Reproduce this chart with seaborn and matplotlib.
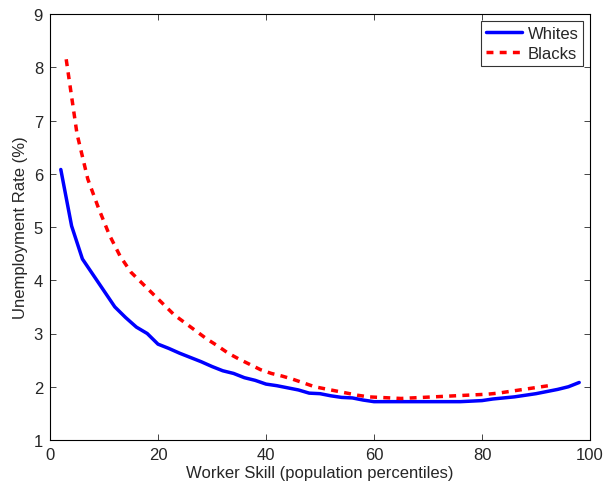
#!/usr/bin/env python3
"""Unemployment rate by worker skill percentile, whites vs blacks."""

import matplotlib
matplotlib.use("Agg")
import matplotlib.pyplot as plt
import pandas as pd
import seaborn as sns

sns.set_style("ticks")
plt.rcParams["font.family"] = ["Liberation Sans", "DejaVu Sans"]

WHITE_SKILL = list(range(2, 100, 2))
WHITE_RATE = [6.08, 5.02, 4.40, 4.10, 3.80, 3.50, 3.30, 3.12, 3.00, 2.80,
              2.72, 2.63, 2.55, 2.47, 2.38, 2.30, 2.25, 2.17, 2.12, 2.05,
              2.02, 1.98, 1.94, 1.88, 1.87, 1.83, 1.80, 1.79, 1.75, 1.72,
              1.72, 1.72, 1.72, 1.72, 1.72, 1.72, 1.72, 1.72, 1.73, 1.74,
              1.77, 1.79, 1.81, 1.84, 1.87, 1.91, 1.95, 2.00, 2.08]

BLACK_SKILL = list(range(3, 95, 2))
BLACK_RATE = [8.15, 6.75, 5.90, 5.35, 4.85, 4.45, 4.15, 3.95, 3.75, 3.55,
              3.35, 3.20, 3.05, 2.90, 2.77, 2.63, 2.52, 2.42, 2.32, 2.25,
              2.20, 2.14, 2.07, 2.00, 1.96, 1.92, 1.88, 1.84, 1.81, 1.80,
              1.79, 1.78, 1.79, 1.80, 1.81, 1.82, 1.83, 1.84, 1.85, 1.86,
              1.88, 1.91, 1.94, 1.97, 2.00, 2.03]


def main():
    df = pd.concat([
        pd.DataFrame({"skill": WHITE_SKILL, "rate": WHITE_RATE, "group": "Whites"}),
        pd.DataFrame({"skill": BLACK_SKILL, "rate": BLACK_RATE, "group": "Blacks"}),
    ])

    fig = plt.figure(figsize=(6.08, 4.89), dpi=100)
    ax = fig.add_axes([50 / 608, 1 - 441 / 489, 540 / 608, 426 / 489])
    sns.lineplot(data=df, x="skill", y="rate", hue="group", style="group",
                 palette={"Whites": "#0000ff", "Blacks": "#ff0000"},
                 dashes={"Whites": "", "Blacks": (2.0, 1.8)},
                 linewidth=2.5, ax=ax)

    ax.set(xlim=(0, 100), ylim=(1, 9),
           xlabel="Worker Skill (population percentiles)",
           ylabel="Unemployment Rate (%)")
    ax.set_xticks(range(0, 101, 20))
    ax.set_yticks(range(1, 10))
    ax.tick_params(direction="in", top=True, right=True, labelsize=12,
                   length=4, width=0.6, pad=5)
    ax.xaxis.label.set_size(12)
    ax.yaxis.label.set_size(12)
    ax.xaxis.labelpad = 2
    for s in ax.spines.values():
        s.set_linewidth(0.8)
        s.set_color("black")

    leg = ax.legend(loc="upper right", fontsize=12, fancybox=False,
                    handlelength=2.2, borderaxespad=0.4, labelspacing=0.3,
                    borderpad=0.3, handletextpad=0.3)
    leg.get_frame().set_edgecolor("black")
    leg.get_frame().set_linewidth(0.8)
    leg.set_title(None)

    fig.savefig("out.png", dpi=100)


if __name__ == "__main__":
    main()
